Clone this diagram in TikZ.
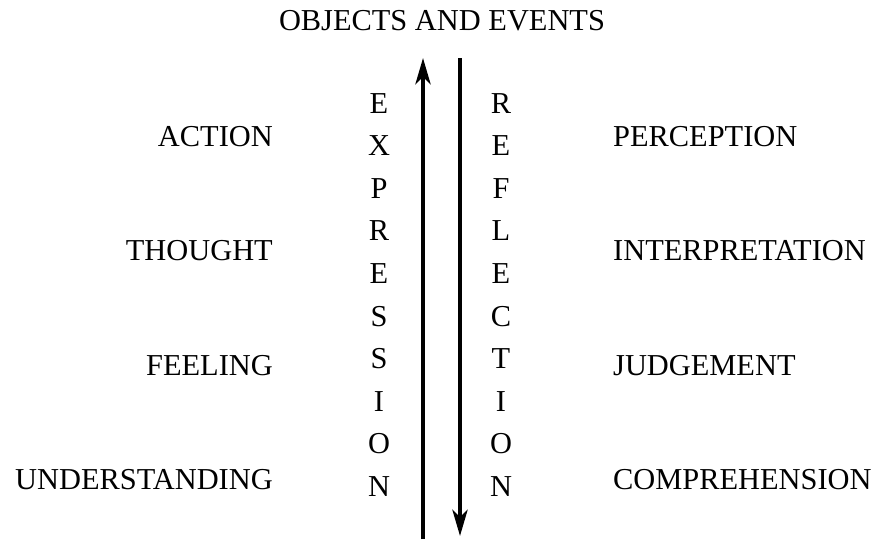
\documentclass[tikz,border=0pt]{standalone}
\usepackage{fontspec}
\setmainfont{Liberation Serif}
\usetikzlibrary{arrows.meta}
\begin{document}
\begin{tikzpicture}[x=1pt,y=-1pt,
  lbl/.style={inner sep=0pt,font=\fontsize{30.4}{36}\selectfont},
  leftlbl/.style={lbl,anchor=base east},
  rightlbl/.style={lbl,anchor=base west},
  letter/.style={lbl,anchor=base},
  flow/.style={line width=4.3pt,-{Stealth[length=26pt,width=15pt,inset=7pt]}}]
\useasboundingbox (0,0) rectangle (872,539);
\node[lbl,anchor=base] (title) at (442,30) {OBJECTS AND EVENTS};
\node[leftlbl] (action) at (273,146) {ACTION};
\node[leftlbl] (thought) at (273,260) {THOUGHT};
\node[leftlbl] (feeling) at (273,375) {FEELING};
\node[leftlbl] (understanding) at (273,489) {UNDERSTANDING};
\node[rightlbl] (perception) at (613,146) {PERCEPTION};
\node[rightlbl] (interpretation) at (613,260) {INTERPRETATION};
\node[rightlbl] (judgement) at (613,375) {JUDGEMENT};
\node[rightlbl] (comprehension) at (613,489) {COMPREHENSION};
\foreach \c [count=\i from 0] in {E,X,P,R,E,S,S,I,O,N}
  \node[letter] (ex\i) at (379,113+42.6*\i) {\c};
\foreach \c [count=\i from 0] in {R,E,F,L,E,C,T,I,O,N}
  \node[letter] (re\i) at (501,113+42.6*\i) {\c};
\coordinate (upbot) at (423,539);
\coordinate (uptop) at (423,58);
\coordinate (dntop) at (460,58);
\coordinate (dnbot) at (460,536);
\draw[flow] (upbot) -- (uptop);
\draw[flow] (dntop) -- (dnbot);
\end{tikzpicture}
\end{document}
